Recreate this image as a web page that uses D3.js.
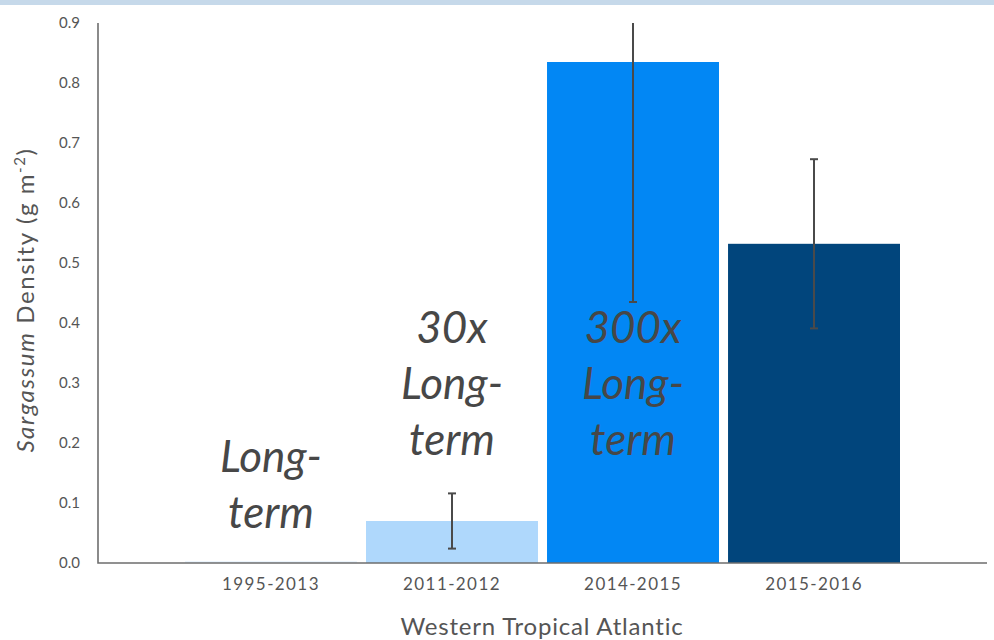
<!DOCTYPE html>
<html>
<head>
<meta charset="utf-8">
<script src="https://cdn.jsdelivr.net/npm/d3@7"></script>
<style>
  body { margin: 0; background: #fff; }
  svg { display: block; font-family: Lato, "Open Sans", sans-serif; }
</style>
</head>
<body>
<div id="chart"></div>
<script>
const width = 994;
const height = 640;
const margin = {top: 23, bottom: 77, left: 98, right: 7};

// data
const periods = ["1995-2013", "2011-2012", "2014-2015", "2015-2016"];
const density = [0.0028, 0.07, 0.835, 0.532];
const errors = [0, 0.046, 0.4, 0.141];
const barColors = ["#e4f1fd", "#afd8fc", "#0287f4", "#01457c"];
const notes = [["Long-", "term"], ["30x", "Long-", "term"], ["300x", "Long-", "term"], []];
const yTicks = [0, 0.1, 0.2, 0.3, 0.4, 0.5, 0.6, 0.7, 0.8, 0.9];

const svg = d3.select('#chart')
    .append('svg')
    .attr('width', width)
    .attr('height', height);

// light band across the top
svg.append('rect')
    .attr('x', 0).attr('y', 0)
    .attr('width', width).attr('height', 5)
    .attr('fill', '#c6d9ea');

const x = d3.scaleBand()
    .domain(periods)
    .range([185, 900])
    .paddingInner(0.05)
    .paddingOuter(0);

const y = d3.scaleLinear()
    .domain([0, 0.9])
    .range([height - margin.bottom, margin.top]);

const rows = periods.map((p, i) => ({p, v: density[i], e: errors[i], c: barColors[i], note: notes[i]}));

svg.append('g')
    .selectAll('rect')
    .data(rows)
    .enter()
    .append('rect')
        .attr('x', d => x(d.p))
        .attr('y', d => y(d.v))
        .attr('width', x.bandwidth())
        .attr('height', d => y(0) - y(d.v))
        .attr('fill', d => d.c);

// error bars, clipped at the top of the axis
const errG = svg.append('g')
    .attr('stroke', '#4a4a4a')
    .attr('stroke-width', 2);
rows.filter(d => d.e > 0).forEach(d => {
    const cx = x(d.p) + x.bandwidth() / 2;
    const hi = Math.min(d.v + d.e, 0.9);
    const lo = d.v - d.e;
    errG.append('line').attr('x1', cx).attr('x2', cx).attr('y1', y(lo)).attr('y2', y(hi));
    errG.append('line').attr('x1', cx - 4).attr('x2', cx + 4).attr('y1', y(lo)).attr('y2', y(lo));
    if (d.v + d.e <= 0.9) {
        errG.append('line').attr('x1', cx - 4).attr('x2', cx + 4).attr('y1', y(hi)).attr('y2', y(hi));
    }
});

// annotations
const noteBottom = [528, 455, 455, 0];
rows.forEach((d, i) => {
    const cx = x(d.p) + x.bandwidth() / 2;
    const n = d.note.length;
    d.note.forEach((t, j) => {
        svg.append('text')
            .attr('x', cx)
            .attr('y', noteBottom[i] - (n - 1 - j) * 56)
            .attr('text-anchor', 'middle')
            .attr('font-style', 'italic')
            .attr('font-size', 44)
            .attr('fill', '#474747')
            .text(t);
    });
});

function xAxis(g){
    g.attr('transform', `translate(0, ${height - margin.bottom})`)
        .call(d3.axisBottom(x).tickSize(0).tickPadding(15))
        .call(g => g.select('.domain').remove())
        .selectAll('text')
        .attr('font-size', 17)
        .attr('letter-spacing', 1.4)
        .attr('fill', '#555')
        .attr('font-family', 'Lato, sans-serif');
}

function yAxis(g){
    g.attr('transform', `translate(${margin.left}, 0)`)
        .call(d3.axisLeft(y).tickValues(yTicks).tickFormat(d3.format('.1f')).tickSize(0).tickPadding(18))
        .call(g => g.select('.domain').remove())
        .selectAll('text')
        .attr('font-size', 15)
        .attr('fill', '#555')
        .attr('font-family', 'Lato, sans-serif');
}
svg.append('g').call(xAxis);
svg.append('g').call(yAxis);

// axis lines
svg.append('path')
    .attr('d', `M${margin.left},${margin.top}V${y(0)}H${width - margin.right}`)
    .attr('fill', 'none')
    .attr('stroke', '#6e6e6e')
    .attr('stroke-width', 1.6);

// axis titles
const yTitle = svg.append('text')
    .attr('transform', `translate(34, 300) rotate(-90)`)
    .attr('text-anchor', 'middle')
    .attr('font-size', 24)
    .attr('letter-spacing', 1.6)
    .attr('fill', '#555');
yTitle.append('tspan').attr('font-style', 'italic').text('Sargassum');
yTitle.append('tspan').text(' Density (g m');
yTitle.append('tspan').attr('font-size', 15).attr('dy', -9).text('-2');
yTitle.append('tspan').attr('dy', 9).text(')');

svg.append('text')
    .attr('x', 542)
    .attr('y', 635)
    .attr('text-anchor', 'middle')
    .attr('font-size', 24)
    .attr('letter-spacing', 0.8)
    .attr('fill', '#555')
    .text('Western Tropical Atlantic');
</script>
</body>
</html>
